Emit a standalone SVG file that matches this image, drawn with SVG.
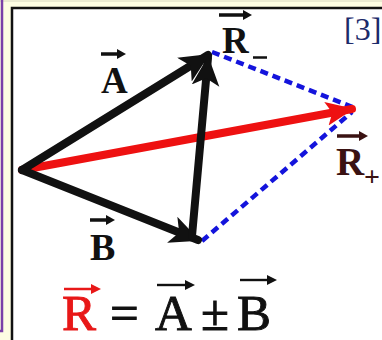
<svg xmlns="http://www.w3.org/2000/svg" width="382" height="340" viewBox="0 0 382 340">
<style>
.lbl{font-family:"Liberation Serif","DejaVu Serif",serif;font-weight:bold;fill:#111}
.eq{font-family:"Liberation Serif","DejaVu Serif",serif;font-size:51px;fill:#111;stroke:#111;stroke-width:0.9}
.vec{stroke:#111;stroke-width:8;stroke-linecap:round;fill:none}
.dash{stroke:#1414dc;stroke-width:4.5;stroke-dasharray:8 5;fill:none}
.tick{stroke:#111;stroke-width:3.5;fill:none}
.thin{stroke:#111;stroke-width:2.4;fill:none}
</style>
<defs>
<marker id="hb" markerUnits="userSpaceOnUse" markerWidth="32" markerHeight="32" refX="26" refY="13" orient="auto" viewBox="0 0 30 26">
<path d="M0,0 L28,13 L0,26 L7,13 Z" fill="#111"/>
</marker>
<marker id="hr" markerUnits="userSpaceOnUse" markerWidth="30" markerHeight="30" refX="26" refY="12" orient="auto" viewBox="0 0 30 24">
<path d="M0,0 L28,12 L0,24 L6,12 Z" fill="#ee1111"/>
</marker>
</defs>
<rect x="0" y="0" width="382" height="340" fill="#fdfde2"/>
<line x1="0" y1="1" x2="382" y2="1" stroke="#d8d8c0" stroke-width="1"/>
<path d="M2,0 V331 H0" stroke="#7a40a8" stroke-width="2.5" fill="none"/>
<rect x="12" y="8" width="380" height="340" fill="#ffffff" stroke="#111" stroke-width="2.5"/>

<g id="connectors">
<line class="dash" x1="212" y1="52" x2="355" y2="108"/>
<line class="dash" x1="202" y1="241" x2="352" y2="112"/>
<line x1="22" y1="170" x2="352" y2="109" stroke="#ee1111" stroke-width="8" stroke-linecap="round" marker-end="url(#hr)"/>
<line class="vec" x1="22" y1="170" x2="208" y2="55" marker-end="url(#hb)"/>
<line class="vec" x1="22" y1="170" x2="198" y2="240" marker-end="url(#hb)"/>
<line class="vec" x1="192" y1="236" x2="208" y2="58" marker-end="url(#hb)"/>
</g>

<g id="label-A">
<text class="lbl" x="101" y="93" font-size="37">A</text>
<line class="tick" x1="101" y1="54" x2="120" y2="54"/>
<path d="M117,49 L126,54 L117,59 Z" fill="#111"/>
</g>
<g id="label-B">
<text class="lbl" x="90" y="260" font-size="38">B</text>
<line class="tick" x1="90" y1="220" x2="109" y2="220"/>
<path d="M106,215 L115,220 L106,225 Z" fill="#111"/>
</g>
<g id="label-Rminus">
<text class="lbl" x="222" y="53" font-size="37">R</text>
<line class="tick" x1="219" y1="15" x2="246" y2="15"/>
<path d="M243,10 L252,15 L243,20 Z" fill="#111"/>
<line x1="253" y1="57.5" x2="267" y2="57.5" stroke="#111" stroke-width="2.5"/>
</g>
<g id="label-Rplus">
<text class="lbl" x="336" y="175" font-size="39" style="fill:#3a1212">R</text>
<line x1="337" y1="136" x2="362" y2="136" stroke="#3a1212" stroke-width="3.5"/>
<path d="M359,131 L368,136 L359,141 Z" fill="#3a1212"/>
<text class="lbl" x="364" y="186" font-size="28" style="fill:#3a1212">+</text>
</g>
<g id="label-ref">
<text x="344" y="40" font-family="Liberation Serif,DejaVu Serif,serif" font-size="32" fill="#1c2a6a">[3]</text>
</g>
<g id="equation">
<text class="eq" x="62" y="330" style="fill:#e81818;stroke:#e81818">R</text>
<line x1="64" y1="289" x2="94" y2="289" stroke="#e81818" stroke-width="2.5"/>
<path d="M91,284 L101,289 L91,294 Z" fill="#e81818"/>
<text class="eq" x="110" y="330">=</text>
<text class="eq" x="155" y="330">A</text>
<line class="thin" x1="157" y1="285" x2="188" y2="285"/>
<path d="M185,280 L195,285 L185,290 Z" fill="#111"/>
<text class="eq" x="201" y="330">±</text>
<text class="eq" x="237" y="330">B</text>
<line class="thin" x1="240" y1="280" x2="270" y2="280"/>
<path d="M267,275 L277,280 L267,285 Z" fill="#111"/>
</g>
</svg>
